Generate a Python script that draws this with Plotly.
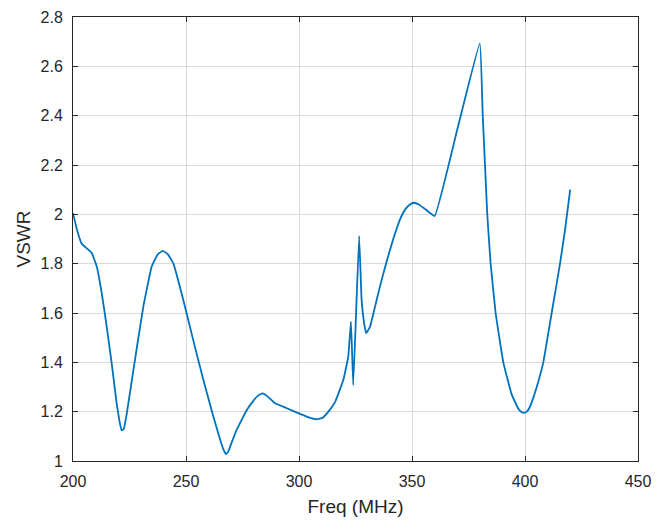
import plotly.graph_objects as go

freq = [200, 201.6, 203.8, 206.1, 208.3, 210.5, 212.7, 214.9, 217.1, 219.3, 220.5, 221.5,
        222.5, 223.8, 227.4, 231.1, 234.8, 237.5, 239.7, 242, 244.4, 248.8, 253.2, 257.7,
        262.1, 265.5, 266.8, 267.7, 268.7, 270, 272.4, 276.9, 279.8, 282, 283.9, 286,
        289.4, 294.6, 300, 304, 307.8, 310.5, 313, 316, 319.6, 321.8, 323.0, 324.0,
        326.6, 327.7, 328.8, 329.7, 331.4, 333.5, 335.8, 338.5, 341.7, 344.7, 347,
        349.1, 350.8, 353, 356, 360, 370, 380, 381.3, 382.3, 383.3, 384.8, 387, 390.4,
        394.1, 397, 398.3, 399.5, 400.8, 402.2, 403.7, 405.2, 408.1, 411.8, 415.5, 417.7,
        420]
vswr = [2.005, 1.943, 1.882, 1.862, 1.843, 1.789, 1.681, 1.546, 1.397, 1.235, 1.165, 1.124,
        1.13, 1.193, 1.409, 1.625, 1.788, 1.838, 1.852, 1.838, 1.801, 1.653, 1.49, 1.328,
        1.18, 1.075, 1.042, 1.028, 1.038, 1.07, 1.126, 1.207, 1.244, 1.266, 1.274, 1.262,
        1.234, 1.214, 1.193, 1.178, 1.169, 1.175, 1.20, 1.24, 1.328, 1.423, 1.565, 1.308,
        1.912, 1.653, 1.56, 1.518, 1.544, 1.62, 1.707, 1.80, 1.90, 1.98, 2.02,
        2.04, 2.047, 2.04, 2.02, 1.993, 2.343, 2.693, 2.40, 2.20, 2.00, 1.80, 1.60, 1.40,
        1.27, 1.213, 1.2, 1.195, 1.2, 1.22, 1.257, 1.30, 1.40, 1.60, 1.80, 1.936,
        2.10]

x_ticks = [200, 250, 300, 350, 400, 450]
y_ticks = [1, 1.2, 1.4, 1.6, 1.8, 2, 2.2, 2.4, 2.6, 2.8]

fig = go.Figure()
fig.add_trace(go.Scatter(x=freq, y=vswr, mode="lines",
                         line=dict(color="#0072BD", width=1.8, shape="spline", smoothing=0.3),
                         showlegend=False))

FONT = "Liberation Sans, Arial, sans-serif"
axis_common = dict(
    showline=True, linecolor="#262626", linewidth=1, mirror="allticks",
    ticks="inside", ticklen=5, tickcolor="#262626",
    showgrid=True, gridcolor="#dadada", gridwidth=1,
    zeroline=False, automargin=False,
    tickfont=dict(family=FONT, size=16, color="#262626"),
)

fig.update_layout(
    width=661, height=529,
    paper_bgcolor="white", plot_bgcolor="white",
    margin=dict(l=73, r=23, t=17, b=68),
    font=dict(family=FONT, color="#262626"),
    xaxis=dict(range=[200, 450], tickvals=x_ticks, ticklabelstandoff=6,
               title=dict(text="Freq (MHz)", font=dict(size=19), standoff=10),
               **axis_common),
    yaxis=dict(range=[1, 2.8], tickvals=y_ticks, ticklabelstandoff=6,
               title=dict(text="VSWR", font=dict(size=19), standoff=4),
               **axis_common),
)

fig.write_html("out.html", config={"displayModeBar": False},
               post_script="document.body.style.margin='0px';")
